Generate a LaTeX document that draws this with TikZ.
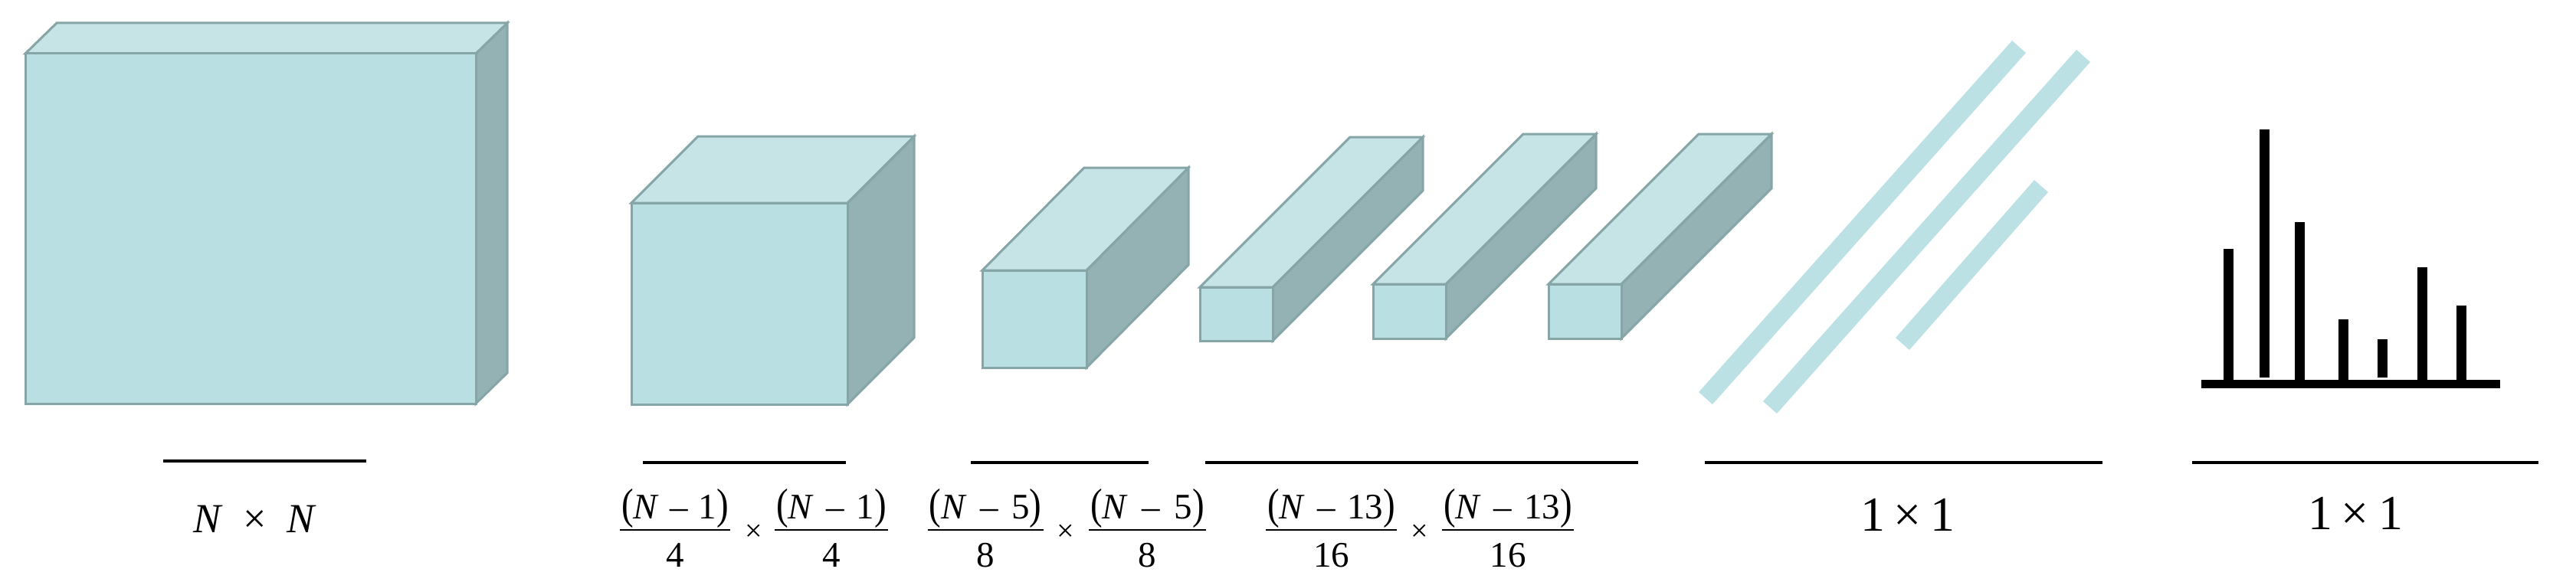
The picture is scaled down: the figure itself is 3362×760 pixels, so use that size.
\documentclass[tikz,border=0pt]{standalone}
\usepackage{graphicx}
\usepackage{fontspec}
\setmainfont{Liberation Serif}
\definecolor{boxedge}{HTML}{86A5A7}
\definecolor{boxfront}{HTML}{BADFE2}
\definecolor{boxtop}{HTML}{C6E4E6}
\definecolor{boxside}{HTML}{94B1B3}
\definecolor{slabc}{HTML}{BCE1E4}
\newcommand\lpar{\scalebox{1}[1.2]{(}}
\newcommand\rpar{\scalebox{1}[1.2]{)}}
% cuboid: front x1,y1,x2,y2, offset dx,dy
\newcommand\cuboid[6]{%
  \filldraw[sideface] (#3,#2) -- ({#3+#5},{#2+#6}) -- ({#3+#5},{#4+#6}) -- (#3,#4) -- cycle;
  \filldraw[topface] (#1,#2) -- ({#1+#5},{#2+#6}) -- ({#3+#5},{#2+#6}) -- (#3,#2) -- cycle;
  \filldraw[frontface] (#1,#2) rectangle (#3,#4);
}
% fraction label: name, centre x, width, numerator, denominator
\newcommand\fraclabel[5]{%
  \node[fractext] (#1n) at (#2,677) {\makebox[\dimexpr #3pt-4pt\relax][s]{#4}};
  \node[fractext] (#1d) at (#2,740) {#5};
  \draw[fracbar] ({#2-#3/2},692) -- ({#2+#3/2},692);
}
\tikzset{
  boxline/.style={draw=boxedge, line width=3pt, line join=miter},
  frontface/.style={boxline, fill=boxfront},
  topface/.style={boxline, fill=boxtop},
  sideface/.style={boxline, fill=boxside},
  slab/.style={draw=slabc, line width=24pt},
  spike/.style={draw=black, line width=13pt},
  axisline/.style={draw=black, line width=11pt},
  underline/.style={draw=black, line width=4pt},
  fracbar/.style={draw=black, line width=2.5pt},
  fractext/.style={anchor=base, inner sep=0pt, font=\fontsize{47}{56}\selectfont},
  timestext/.style={anchor=center, inner sep=0pt, font=\fontsize{40}{48}\selectfont},
  nlabel/.style={anchor=base, inner sep=0pt, font=\fontsize{54}{64}\selectfont},
  onelabel/.style={anchor=base, inner sep=0pt, font=\fontsize{64}{76}\selectfont},
}
\begin{document}
\begin{tikzpicture}[x=1pt, y=-1pt]
\useasboundingbox (0,0) rectangle (3362,760);

% cuboids
\cuboid{33}{70}{621}{527}{41}{-40}
\cuboid{824}{265}{1106}{528}{87}{-87}
\cuboid{1282}{353}{1418}{480}{133}{-134}
\cuboid{1566}{375}{1661}{445}{196}{-196}
\cuboid{1792}{371}{1887}{442}{196}{-196}
\cuboid{2021}{371}{2116}{442}{196}{-196}

% flattened slabs
\draw[slab] (2226,520) -- (2635,61);
\draw[slab] (2310,532) -- (2719,73);
\draw[slab] (2483,449) -- (2664,243);

% spectrum
\draw[axisline] (2873,501.5) -- (3263,501.5);
\draw[spike] (2908.5,501) -- (2908.5,325);
\draw[spike] (2955,493) -- (2955,169);
\draw[spike] (3001,501) -- (3001,290);
\draw[spike] (3058.5,501) -- (3058.5,417);
\draw[spike] (3109,493) -- (3109,443);
\draw[spike] (3161.5,501) -- (3161.5,349);
\draw[spike] (3212.5,501) -- (3212.5,399);

% underlines
\draw[underline] (213,601.5) -- (478,601.5);
\draw[underline] (839,603.5) -- (1104,603.5);
\draw[underline] (1267,603.5) -- (1499,603.5);
\draw[underline] (1573,603.5) -- (2138,603.5);
\draw[underline] (2225,603.5) -- (2744,603.5);
\draw[underline] (2861,603.5) -- (3313,603.5);

% labels
\node[nlabel] (lab1) at (333,695) {\makebox[161pt][s]{\textit{N} × \textit{N}}};

\fraclabel{f1a}{881}{144}{\lpar\textit{N} – 1\rpar}{4}
\node[timestext] (x1) at (983.5,696) {×};
\fraclabel{f1b}{1085}{148}{\lpar\textit{N} – 1\rpar}{4}

\fraclabel{f2a}{1286}{151}{\lpar\textit{N} – 5\rpar}{8}
\node[timestext] (x2) at (1391,696) {×};
\fraclabel{f2b}{1497.5}{153}{\lpar\textit{N} – 5\rpar}{8}

\fraclabel{f3a}{1737.5}{171}{\lpar\textit{N} – 13\rpar}{16}
\node[timestext] (x3) at (1853,696) {×};
\fraclabel{f3b}{1968}{172}{\lpar\textit{N} – 13\rpar}{16}

\node[onelabel] (lab5) at (2490,693) {\makebox[124pt][s]{1 × 1}};
\node[onelabel] (lab6) at (3074,691) {\makebox[124pt][s]{1 × 1}};
\end{tikzpicture}
\end{document}
